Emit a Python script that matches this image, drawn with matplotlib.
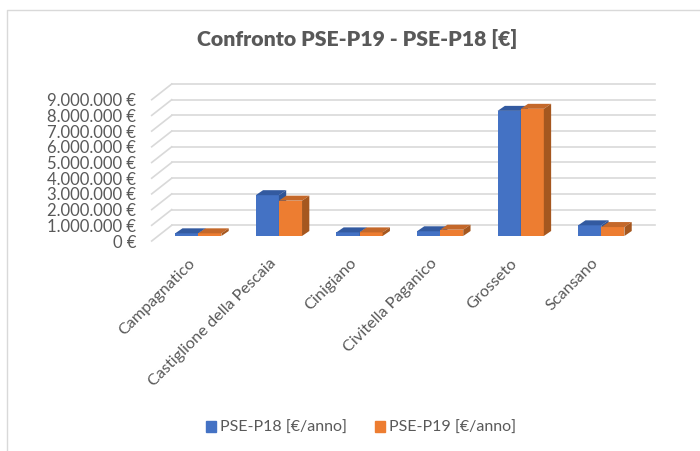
import matplotlib
matplotlib.use('Agg')
import matplotlib.pyplot as plt
from matplotlib.lines import Line2D
from matplotlib.patches import Polygon, Rectangle
from matplotlib.transforms import IdentityTransform, ScaledTranslation

comuni = ['Campagnatico', 'Castiglione della Pescaia', 'Cinigiano',
          'Civitella Paganico', 'Grosseto', 'Scansano']
pse_p18 = [170000, 2600000, 230000, 300000, 7970000, 680000]
pse_p19 = [170000, 2250000, 230000, 400000, 8100000, 570000]
y_ticks = [0, 1000000, 2000000, 3000000, 4000000, 5000000, 6000000, 7000000, 8000000, 9000000]
y_labels = ['0 €', '1.000.000 €', '2.000.000 €', '3.000.000 €', '4.000.000 €',
            '5.000.000 €', '6.000.000 €', '7.000.000 €', '8.000.000 €', '9.000.000 €']

W, H = 700, 451
DPI = 100
plt.rcParams['font.family'] = ['Lato', 'DejaVu Sans']
TXT = '#595959'
GRID = '#d9d9d9'
BLU, BLU_TOP, BLU_SIDE = '#4472c4', '#335aa0', '#2f5597'
ARA, ARA_TOP, ARA_SIDE = '#ed7d31', '#c4682a', '#a5571f'


def px(dx, dy):
    # spostamento in pixel -> trasformazione
    return ScaledTranslation(dx / DPI, dy / DPI, fig.dpi_scale_trans)


fig = plt.figure(figsize=(W / DPI, H / DPI), dpi=DPI)
# cornice: si vedono solo il lato sinistro e quello in alto
fig.add_artist(Line2D([7 / W, 7 / W, 1], [0, (H - 10) / H, (H - 10) / H],
                      transform=fig.transFigure, color=GRID, lw=1.0))

# il piano frontale del grafico 3D: 0 a y=241, 9M a y=100
ax = fig.add_axes([151.7 / W, (H - 241) / H, 483.6 / W, 141.3 / H])
ax.set_xlim(-0.5, 5.5)
ax.set_ylim(0, 9000000)
ax.patch.set_alpha(0)
for s in ax.spines.values():
    s.set_visible(False)

# griglia sul fondo e raccordi laterali
back = ax.transData + px(20, 15.7)
for v in y_ticks:
    ax.plot([-0.5, 5.5], [v, v], color=GRID, lw=1.2, transform=back, clip_on=False, zorder=1)
    a = ax.transData.transform((-0.5, v))
    b = back.transform((-0.5, v))
    ax.add_line(Line2D([a[0], b[0]], [a[1], b[1]], transform=IdentityTransform(),
                       color=GRID, lw=1.2, clip_on=False, zorder=1))

w = 0.287
DX, DY = 7.3, 5
tr = ax.transData + px(6.3, 5)
shift = ax.transData + px(6.3 + DX, 5 + DY)


def barra(xc, val, col, top, side, zo):
    ax.bar(xc, val, width=w, color=col, transform=tr, clip_on=False, zorder=zo)
    # faccia superiore e laterale spostate in pixel
    x0, x1 = xc - w / 2, xc + w / 2
    a = tr.transform([(x0, val), (x1, val), (x1, 0)])
    b = shift.transform([(x0, val), (x1, val), (x1, 0)])
    ax.add_patch(Polygon([a[0], a[1], b[1], b[0]], transform=IdentityTransform(),
                         fc=top, ec='none', clip_on=False, zorder=zo))
    ax.add_patch(Polygon([a[1], a[2], b[2], b[1]], transform=IdentityTransform(),
                         fc=side, ec='none', clip_on=False, zorder=zo))


for i in range(len(comuni)):
    barra(i - w / 2, pse_p18[i], BLU, BLU_TOP, BLU_SIDE, 3)
    barra(i + w / 2, pse_p19[i], ARA, ARA_TOP, ARA_SIDE, 4)

ax.set_yticks(y_ticks, y_labels, fontsize=12, color=TXT)
ax.set_xticks(range(len(comuni)))
ax.set_xticklabels(comuni, rotation=45, ha='right', va='top', rotation_mode='anchor',
                   fontsize=11.7, color=TXT)
ax.tick_params(length=0)
ax.tick_params(axis='y', pad=11)
ax.tick_params(axis='x', pad=11)
for lab in ax.get_xticklabels():
    lab.set_transform(lab.get_transform() + px(-4, 0))

fig.text(357.5 / W, (H - 39) / H, 'Confronto PSE-P19 - PSE-P18 [€]', ha='center', va='center',
         fontsize=15.3, fontweight='heavy', color=TXT)

h = [Rectangle((0, 0), 1, 1, color=BLU), Rectangle((0, 0), 1, 1, color=ARA)]
fig.legend(h, ['PSE-P18 [€/anno]', 'PSE-P19 [€/anno]'], loc='center', ncol=2,
           bbox_to_anchor=(361 / W, (H - 428) / H), frameon=False, fontsize=11.5,
           labelcolor=TXT, handlelength=0.63, handleheight=0.63, handletextpad=0.25, columnspacing=1.75)

fig.savefig('out.png', dpi=DPI)
